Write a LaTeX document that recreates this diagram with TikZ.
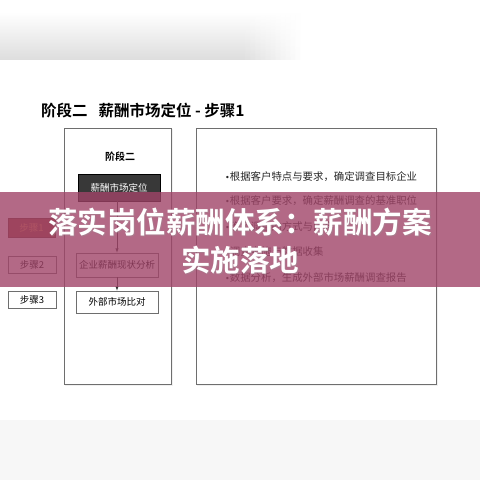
\documentclass[tikz,border=0pt]{standalone}
\usepackage{fontspec}
\setmainfont{Noto Sans CJK SC}
\newfontfamily\cjk{Noto Sans CJK SC}
\newfontfamily\cjkbold{Noto Sans CJK SC Bold}
\newfontfamily\dotfont{DejaVu Sans}
\definecolor{bannerpink}{RGB}{160,68,104}
\definecolor{stepred}{RGB}{150,72,58}
\definecolor{steptext}{RGB}{240,150,80}
\definecolor{framegray}{RGB}{110,110,110}
\newcommand{\dotmark}{{\dotfont\fontsize{8}{8}\selectfont•}}

\begin{document}
\begin{tikzpicture}[
    x=1pt,y=-1pt,
    frame/.style={draw=framegray,line width=0.8pt},
    box/.style={rectangle,draw=framegray,fill=white,line width=0.6pt,minimum width=82pt,inner sep=0pt,font=\cjk\fontsize{9.5}{10}\selectfont},
    darkbox/.style={box,draw=black,fill=black!78,text=white},
    stepbox/.style={rectangle,draw=framegray,fill=white,line width=0.6pt,minimum width=48pt,minimum height=17pt,inner sep=0pt,font=\cjk\fontsize{9.5}{10}\selectfont},
    bullet/.style={anchor=west,inner sep=0pt,font=\cjk\fontsize{10.4}{11}\selectfont,text=black!85},
    link/.style={->,>=latex,draw=black!80,line width=0.5pt},
    banner/.style={fill=bannerpink,fill opacity=0.8},
]
\useasboundingbox (0,0) rectangle (480,480);
\fill[white] (0,0) rectangle (480,480);

% grey bands at top and bottom
\shade[top color=white,bottom color=black!13] (0,12) rectangle (240,59);
\foreach \i in {0,...,11}
  \shade[top color=white,bottom color=black!13,opacity=1-\i/12] (240+5*\i,12) rectangle (245+5*\i,59);
\fill[black!3] (0,420) rectangle (480,480);

% title
\node[anchor=west,inner sep=0pt,font=\cjkbold\fontsize{15.5}{16}\selectfont] (title) at (41,111) {阶段二\hspace{11pt}薪酬市场定位 - 步骤1};

% frames
\fill[black!6] (65,129) rectangle (173,386);
\fill[black!6] (197,129) rectangle (438,386);
\draw[frame,fill=white] (64,128) rectangle (171,384);
\draw[frame,fill=white] (196,128) rectangle (436,384);

% left column
\node[font=\cjkbold\fontsize{10}{11}\selectfont] (stage) at (120,157) {阶段二};
\node[darkbox,minimum height=27pt] (position) at (119,187.5) {薪酬市场定位};
\node[box,minimum height=24pt] (status) at (117,265) {企业薪酬现状分析};
\node[box,minimum height=22pt] (compare) at (117,302) {外部市场比对};
\draw[link] (position.south -| status.north) -- (status.north);
\draw[link] (status) -- (compare);

% steps
\node[stepbox,fill=stepred,draw=stepred!70!black,text=steptext,minimum width=47pt,minimum height=19pt] (step1) at (31.5,227.5) {步骤1};
\node[stepbox] (step2) at (32,264.5) {步骤2};
\node[stepbox] (step3) at (32,299.5) {步骤3};

% right column
\node[bullet] (b1) at (225,177) {\dotmark 根据客户特点与要求，确定调查目标企业};
\node[bullet] (b2) at (225,201) {\dotmark 根据客户要求，确定薪酬调查的基准职位};
\node[bullet] (b3) at (225,227) {\dotmark 确定调查的方式与内容};
\node[bullet] (b4) at (225,252) {\dotmark 调查实施与数据收集};
\node[bullet] (b5) at (225,278) {\dotmark 数据分析，生成外部市场薪酬调查报告};

% banner
\fill[banner] (0,192) rectangle (480,287);
\node[font=\cjkbold\fontsize{29.5}{30}\selectfont,text=black!40,opacity=0.35] at (241,223.5) {落实岗位薪酬体系：薪酬方案};
\node[font=\cjkbold\fontsize{29.5}{30}\selectfont,text=black!40,opacity=0.35] at (241,261.5) {实施落地};
\node[font=\cjkbold\fontsize{29.5}{30}\selectfont,text=white] (head1) at (240,222) {落实岗位薪酬体系：薪酬方案};
\node[font=\cjkbold\fontsize{29.5}{30}\selectfont,text=white] (head2) at (240,260) {实施落地};
\end{tikzpicture}
\end{document}
